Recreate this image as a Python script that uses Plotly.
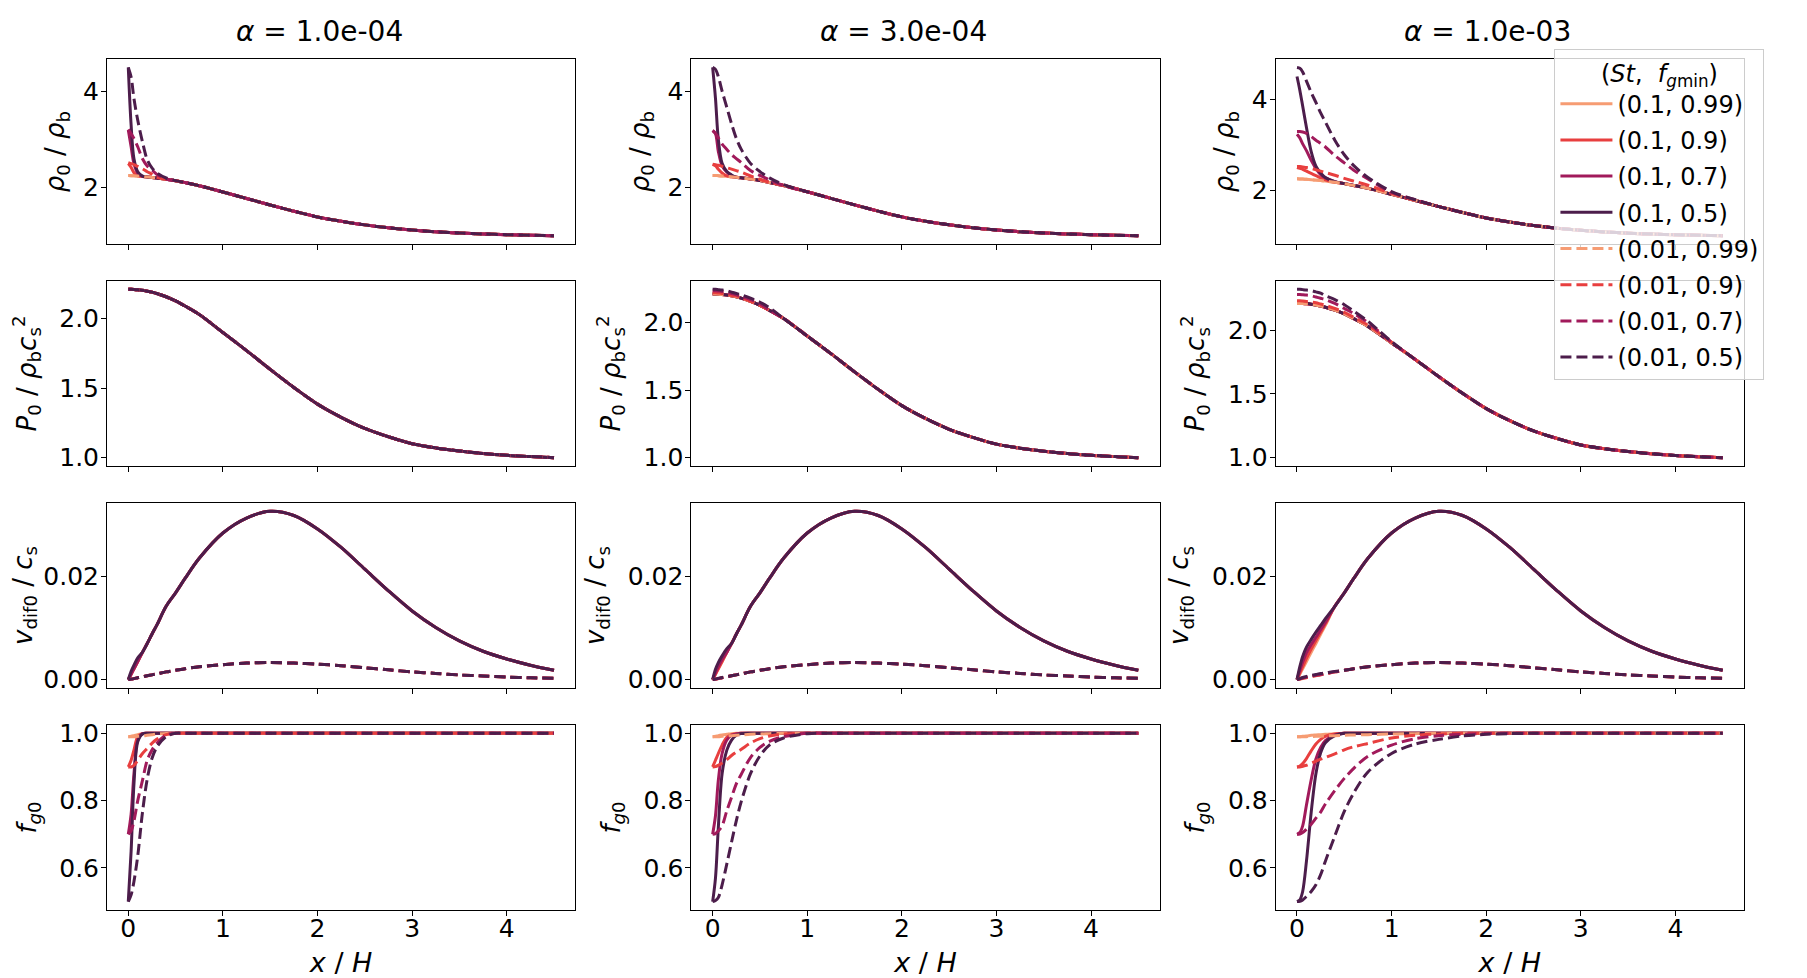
import plotly.graph_objects as go
from plotly.subplots import make_subplots

# Column titles (turbulence alpha)
ALPHAS = ["1.0e-04", "3.0e-04", "1.0e-03"]

# Series: (St, f_gmin)
ST_VALUES = [0.1, 0.1, 0.1, 0.1, 0.01, 0.01, 0.01, 0.01]
FGMIN_VALUES = [0.99, 0.9, 0.7, 0.5, 0.99, 0.9, 0.7, 0.5]
COLORS = ["#f69c73", "#e83f3f", "#a11a5b", "#4c1d4b",
          "#f69c73", "#e83f3f", "#a11a5b", "#4c1d4b"]
DASHES = ["solid", "solid", "solid", "solid",
          "11px,5px", "11px,5px", "11px,5px", "11px,5px"]

# shared x grid (x / H)
X_GRID = [0, 0.03, 0.06, 0.1, 0.15, 0.2, 0.25, 0.3, 0.4, 0.5, 0.6, 0.75, 1.0,
          1.25, 1.5, 1.75, 2.0, 2.25, 2.5, 2.75, 3.0, 3.25, 3.5, 3.75, 4.0, 4.25, 4.5]

# common curves (where all runs coincide)
RHO_BASE = [2.25, 2.248, 2.245, 2.24, 2.232, 2.222, 2.212, 2.2, 2.175, 2.145, 2.105, 2.04, 1.91,
            1.775, 1.64, 1.51, 1.39, 1.30, 1.225, 1.165, 1.118, 1.082, 1.056, 1.036, 1.021, 1.009, 1.0]
P_BASE = [2.21, 2.21, 2.209, 2.207, 2.203, 2.197, 2.19, 2.18, 2.157, 2.127, 2.09, 2.03, 1.90,
          1.77, 1.635, 1.505, 1.385, 1.29, 1.21, 1.15, 1.1, 1.07, 1.048, 1.03, 1.017, 1.008, 1.0]
VDIF_SOLID_BASE = [0, 0.00105, 0.0021, 0.0035, 0.0053, 0.007, 0.0088, 0.0105, 0.0142, 0.0168, 0.0196,
                   0.0235, 0.0284, 0.0313, 0.0326, 0.0318, 0.0292, 0.0256, 0.0214, 0.0172, 0.0133,
                   0.0101, 0.0075, 0.0055, 0.004, 0.0028, 0.0018]
VDIF_DASH_BASE = [0, 0.0001, 0.0002, 0.00038, 0.00057, 0.00075, 0.00092, 0.0011, 0.0015, 0.0018, 0.0021,
                  0.0025, 0.0029, 0.0032, 0.0033, 0.0032, 0.003, 0.0027, 0.0023, 0.0019, 0.0015,
                  0.0012, 0.0009, 0.0007, 0.0005, 0.00035, 0.00025]
FG_BASE = [1.0, 1.0, 1.0, 1.0, 1.0, 1.0, 1.0, 1.0, 1.0, 1.0, 1.0, 1.0, 1.0, 1.0,
           1.0, 1.0, 1.0, 1.0, 1.0, 1.0, 1.0, 1.0, 1.0, 1.0, 1.0, 1.0, 1.0]

# near-origin values per series (rest of the curve follows the common curve)
RHO_A1 = [[], [2.5, 2.42, 2.31, 2.245], [3.2, 2.85, 2.5, 2.3, 2.235], [4.5, 3.3, 2.6, 2.33, 2.24],
          [], [2.52, 2.5, 2.48, 2.44, 2.39, 2.33, 2.28, 2.22],
          [3.21, 3.12, 3.02, 2.85, 2.6, 2.45, 2.37, 2.28, 2.18],
          [4.5, 4.3, 3.85, 3.4, 2.95, 2.58, 2.41, 2.31, 2.2]]
RHO_A2 = [[], [2.48, 2.45, 2.38, 2.3, 2.24], [3.18, 3.12, 2.75, 2.45, 2.32, 2.24],
          [4.49, 3.85, 3.0, 2.5, 2.33, 2.26],
          [], [2.48, 2.47, 2.46, 2.44, 2.41, 2.38, 2.35, 2.32, 2.24, 2.17],
          [3.18, 3.12, 3.03, 2.9, 2.79, 2.68, 2.6, 2.52, 2.35, 2.25, 2.16],
          [4.49, 4.45, 4.3, 4.0, 3.66, 3.32, 3.02, 2.8, 2.5, 2.33, 2.2, 2.06]]
RHO_A3 = [[], [2.5, 2.48, 2.46, 2.42, 2.37, 2.32, 2.27, 2.23],
          [3.23, 3.15, 3.02, 2.87, 2.66, 2.48, 2.34, 2.27, 2.19],
          [4.5, 4.2, 3.85, 3.38, 2.85, 2.53, 2.38, 2.28, 2.19],
          [], [2.52, 2.52, 2.51, 2.5, 2.48, 2.45, 2.42, 2.39, 2.33, 2.26, 2.2, 2.11, 1.93],
          [3.29, 3.29, 3.28, 3.25, 3.18, 3.1, 3.03, 2.95, 2.76, 2.6, 2.44, 2.25, 1.95, 1.79],
          [4.7, 4.68, 4.6, 4.4, 4.15, 3.93, 3.7, 3.5, 3.1, 2.78, 2.54, 2.28, 1.97, 1.79]]

P_A1 = [[], [], [], [], [], [], [], []]
P_A2 = [[], [], [], [], [],
        [2.22, 2.22, 2.218, 2.215, 2.21, 2.2, 2.195, 2.185],
        [2.235, 2.235, 2.233, 2.23, 2.225, 2.215, 2.205, 2.195, 2.17, 2.14],
        [2.245, 2.245, 2.243, 2.24, 2.235, 2.225, 2.215, 2.205, 2.18, 2.15, 2.11]]
P_A3 = [[], [], [], [2.215, 2.215, 2.214, 2.212], [],
        [2.23, 2.23, 2.228, 2.225, 2.22, 2.215, 2.205, 2.195, 2.17, 2.14, 2.1, 2.04, 1.905],
        [2.28, 2.28, 2.278, 2.275, 2.27, 2.26, 2.25, 2.24, 2.21, 2.17, 2.13, 2.06, 1.905],
        [2.32, 2.32, 2.318, 2.315, 2.31, 2.3, 2.29, 2.27, 2.24, 2.2, 2.15, 2.07, 1.91]]

V_A1 = [[], [], [], [0, 0.0016, 0.0028, 0.0042], [], [], [], []]
V_A2 = [[], [], [0, 0.0013, 0.0025, 0.0039], [0, 0.002, 0.0033, 0.0046, 0.006],
        [], [], [], [0, 0.00012, 0.00025, 0.00042]]
V_A3 = [[], [0, 0.0013, 0.0025, 0.0041, 0.0059, 0.0076, 0.0092, 0.0108],
        [0, 0.0018, 0.0034, 0.0052, 0.0068, 0.0082, 0.0097, 0.0111],
        [0, 0.0025, 0.0045, 0.0063, 0.0078, 0.0092, 0.0105, 0.0118],
        [], [0, 0.00012, 0.00024, 0.0004, 0.0006, 0.00078],
        [0, 0.00015, 0.0003, 0.00048, 0.00068, 0.00086, 0.001, 0.0012],
        [0, 0.0002, 0.0004, 0.0006, 0.0008, 0.001, 0.0012, 0.0013, 0.0016]]

FG_A1 = [[0.99, 0.991, 0.993, 0.996, 0.999],
         [0.9, 0.92, 0.95, 0.99, 0.999],
         [0.7, 0.76, 0.88, 0.98, 0.999],
         [0.5, 0.65, 0.85, 0.975, 0.998],
         [0.99, 0.99, 0.99, 0.991, 0.992, 0.994, 0.996, 0.998, 0.9995],
         [0.9, 0.9, 0.905, 0.92, 0.94, 0.955, 0.97, 0.982, 0.996],
         [0.7, 0.71, 0.74, 0.8, 0.86, 0.92, 0.95, 0.97, 0.995],
         [0.5, 0.52, 0.56, 0.636, 0.765, 0.864, 0.925, 0.958, 0.99]]
FG_A2 = [[0.99, 0.991, 0.993, 0.995, 0.997, 0.999],
         [0.9, 0.92, 0.94, 0.965, 0.988, 0.996, 0.999],
         [0.7, 0.755, 0.86, 0.94, 0.98, 0.994, 0.998],
         [0.5, 0.57, 0.72, 0.88, 0.95, 0.98, 0.994, 0.999],
         [0.99, 0.99, 0.99, 0.991, 0.992, 0.993, 0.994, 0.995, 0.997, 0.998, 0.999],
         [0.9, 0.901, 0.905, 0.912, 0.922, 0.934, 0.944, 0.952, 0.971, 0.984, 0.992, 0.998],
         [0.7, 0.702, 0.71, 0.725, 0.77, 0.81, 0.85, 0.877, 0.928, 0.958, 0.976, 0.99],
         [0.5, 0.503, 0.512, 0.55, 0.612, 0.677, 0.74, 0.795, 0.88, 0.933, 0.965, 0.986, 0.999]]
FG_A3 = [[0.99, 0.99, 0.991, 0.992, 0.994, 0.995, 0.996, 0.997, 0.999],
         [0.9, 0.903, 0.91, 0.925, 0.948, 0.968, 0.982, 0.991, 0.998],
         [0.7, 0.705, 0.725, 0.787, 0.862, 0.924, 0.958, 0.978, 0.995],
         [0.5, 0.505, 0.53, 0.62, 0.765, 0.88, 0.942, 0.972, 0.993],
         [0.99, 0.99, 0.99, 0.99, 0.9905, 0.991, 0.9915, 0.992, 0.993, 0.994, 0.995, 0.996, 0.998, 0.999],
         [0.9, 0.9, 0.902, 0.905, 0.911, 0.917, 0.923, 0.928, 0.939, 0.951, 0.96, 0.97, 0.986, 0.994, 0.998],
         [0.7, 0.701, 0.705, 0.715, 0.73, 0.748, 0.766, 0.79, 0.83, 0.866, 0.896, 0.932, 0.965,
          0.984, 0.993, 0.997, 0.999],
         [0.5, 0.501, 0.505, 0.515, 0.53, 0.55, 0.58, 0.62, 0.695, 0.768, 0.823, 0.885, 0.94,
          0.968, 0.982, 0.992, 0.997, 0.999]]

Y_LABELS = [
    "<i>ρ</i><sub>0</sub> / <i>ρ</i><sub>b</sub>",
    "<i>P</i><sub>0</sub> / <i>ρ</i><sub>b</sub><i>c</i><sub>s</sub><sup>2</sup>",
    "<i>v</i><sub>dif0</sub> / <i>c</i><sub>s</sub>",
    "<i>f</i><sub><i>g</i>0</sub>",
]
Y_STANDOFFS = [10, 15, 15, 15]
Y_TICKS = [[2, 4], [1.0, 1.5, 2.0], [0.0, 0.02], [0.6, 0.8, 1.0]]
Y_FORMATS = ["d", ".1f", ".2f", ".1f"]
X_TICKS = [0, 1, 2, 3, 4]

rows = [
    (RHO_BASE, RHO_BASE, [RHO_A1, RHO_A2, RHO_A3]),
    (P_BASE, P_BASE, [P_A1, P_A2, P_A3]),
    (VDIF_SOLID_BASE, VDIF_DASH_BASE, [V_A1, V_A2, V_A3]),
    (FG_BASE, FG_BASE, [FG_A1, FG_A2, FG_A3]),
]

fig = make_subplots(
    rows=4, cols=3,
    horizontal_spacing=0.0709,
    vertical_spacing=0.0433,
    subplot_titles=["<i>α</i> = " + a for a in ALPHAS],
)

FONT = "DejaVu Sans"

for r, (solid_base, dash_base, heads_by_col) in enumerate(rows, start=1):
    for c, heads in enumerate(heads_by_col, start=1):
        all_y = []
        for k in range(8):
            base = solid_base if k < 4 else dash_base
            head = heads[k]
            y = head + base[len(head):]
            all_y += y
            label = f"({ST_VALUES[k]}, {FGMIN_VALUES[k]})"
            fig.add_trace(go.Scatter(
                x=X_GRID, y=y, mode="lines", name=label,
                legendgroup=label, showlegend=(r == 1 and c == 1),
                line=dict(color=COLORS[k], width=3, dash=DASHES[k],
                          shape="spline", smoothing=0.9),
            ), row=r, col=c)
        lo, hi = min(all_y), max(all_y)
        pad = 0.05 * (hi - lo)
        fig.update_yaxes(range=[lo - pad, hi + pad], row=r, col=c)
        fig.update_yaxes(tickvals=Y_TICKS[r - 1], tickformat=Y_FORMATS[r - 1],
                         title=dict(text=Y_LABELS[r - 1], font=dict(size=26),
                                    standoff=Y_STANDOFFS[r - 1]),
                         row=r, col=c)
        fig.update_xaxes(showticklabels=(r == 4), row=r, col=c)
        if r == 4:
            fig.update_xaxes(title=dict(text="<i>x</i> / <i>H</i>", font=dict(size=27), standoff=11),
                             row=r, col=c)

axis_style = dict(
    showline=True, linecolor="black", linewidth=1, mirror=True,
    ticks="outside", ticklen=5, tickwidth=1, tickcolor="black",
    showgrid=False, zeroline=False, tickfont=dict(size=25, color="black"),
    automargin=False,
)
fig.update_xaxes(range=[-0.225, 4.725], tickvals=X_TICKS, ticklabelstandoff=-9, **axis_style)
fig.update_yaxes(ticklabelstandoff=-3, **axis_style)

for ann in fig.layout.annotations:
    ann.font = dict(size=28, color="black", family=FONT)
    ann.yshift = 9
    ann.xshift = -22

fig.update_layout(
    width=1807, height=978,
    template="none",
    paper_bgcolor="white", plot_bgcolor="white",
    font=dict(family=FONT, color="black", size=22),
    margin=dict(l=99, r=71, t=51, b=76, pad=0, autoexpand=False),
    legend=dict(
        xref="paper", yref="paper",
        x=0.8842, y=1.0113, xanchor="left", yanchor="top",
        bgcolor="rgba(255,255,255,0.8)", bordercolor="#cccccc", borderwidth=1,
        font=dict(size=24, color="black"),
        title=dict(text="(<i>St</i>,  <i>f</i><sub><i>g</i>min</sub>)",
                   side="top center", font=dict(size=24)),
        tracegroupgap=2, itemwidth=52,
    ),
)

fig.write_html("out.html")
